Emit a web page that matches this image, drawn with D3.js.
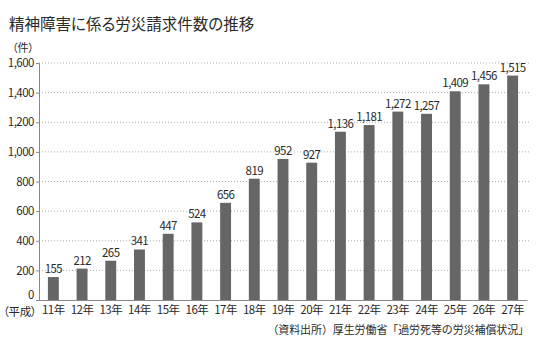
<!DOCTYPE html>
<html><head><meta charset="utf-8">
<script src="https://cdn.jsdelivr.net/npm/d3@7"></script>
<style>
body{margin:0;background:#fff;}
text{font-family:"Noto Sans CJK JP","Noto Sans",sans-serif;fill:#2a2a2a;font-feature-settings:"palt";}
</style></head>
<body><svg id="c" width="540" height="353"></svg>
<script>
const years = ["11年","12年","13年","14年","15年","16年","17年","18年","19年","20年","21年","22年","23年","24年","25年","26年","27年"];
const claims = [155,212,265,341,447,524,656,819,952,927,1136,1181,1272,1257,1409,1456,1515];
const yTicks = [0,200,400,600,800,1000,1200,1400,1600];
const title = "精神障害に係る労災請求件数の推移";
const unitLabel = "（件）";
const eraLabel = "（平成）";
const sourceText = "（資料出所）厚生労働省「過労死等の労災補償状況」";

const svg = d3.select("#c");
const L = 39, R = 527, T = 63, B = 300;
const x = d3.scaleBand().domain(years).range([L, R]).paddingInner(0.62).paddingOuter(0.31);
const y = d3.scaleLinear().domain([0,1600]).range([B, T]);

svg.append("text").attr("x",9).attr("y",30).attr("font-size",15.5).text(title);
svg.append("text").attr("x",12).attr("y",52).attr("font-size",11).text(unitLabel);

// grid
svg.append("g").selectAll("line").data(yTicks.filter(d=>d>0)).join("line")
  .attr("x1",L).attr("x2",530).attr("y1",d=>y(d)).attr("y2",d=>y(d))
  .attr("stroke","#999").attr("stroke-width",0.8).attr("stroke-dasharray","1,2");

const fmt = d3.format(",");
const ya = svg.append("g").attr("transform",`translate(${L},0)`)
  .call(d3.axisLeft(y).tickValues(yTicks).tickFormat(fmt).tickSize(3).tickPadding(2));
ya.select(".domain").attr("stroke","#888");
ya.selectAll(".tick line").attr("stroke","#888");
ya.selectAll("text").attr("font-size",11.5).attr("fill","#2a2a2a").style("font-family","'Noto Sans CJK JP'").attr("letter-spacing","-0.5");
ya.selectAll(".tick").filter(d=>d===0).select("text").attr("dy","-0.1em");

// bars
svg.append("g").selectAll("rect").data(claims).join("rect")
  .attr("x",(d,i)=>x(years[i])).attr("width",x.bandwidth())
  .attr("y",d=>y(d)).attr("height",d=>B-y(d)).attr("fill","#666");

svg.append("g").selectAll("text").data(claims).join("text")
  .attr("x",(d,i)=>x(years[i])+x.bandwidth()/2).attr("y",d=>y(d)-4)
  .attr("text-anchor","middle").attr("font-size",11.5).attr("letter-spacing","-0.6")
  .text(d=>fmt(d));

const xa = svg.append("g").attr("transform",`translate(0,${B})`)
  .call(d3.axisBottom(x).tickSize(0).tickPadding(6));
xa.select(".domain").attr("stroke","#888");
xa.selectAll("text").attr("font-size",11.5).attr("fill","#2a2a2a").style("font-family","'Noto Sans CJK JP'").attr("letter-spacing","-0.5");

svg.append("text").attr("x",3).attr("y",B+16).attr("text-anchor","start").attr("font-size",11.5).attr("letter-spacing","-0.3").text(eraLabel);
svg.append("text").attr("x",529).attr("y",334).attr("text-anchor","end").attr("font-size",11).style("font-feature-settings","normal").attr("letter-spacing","-0.1").text(sourceText);
</script></body></html>
